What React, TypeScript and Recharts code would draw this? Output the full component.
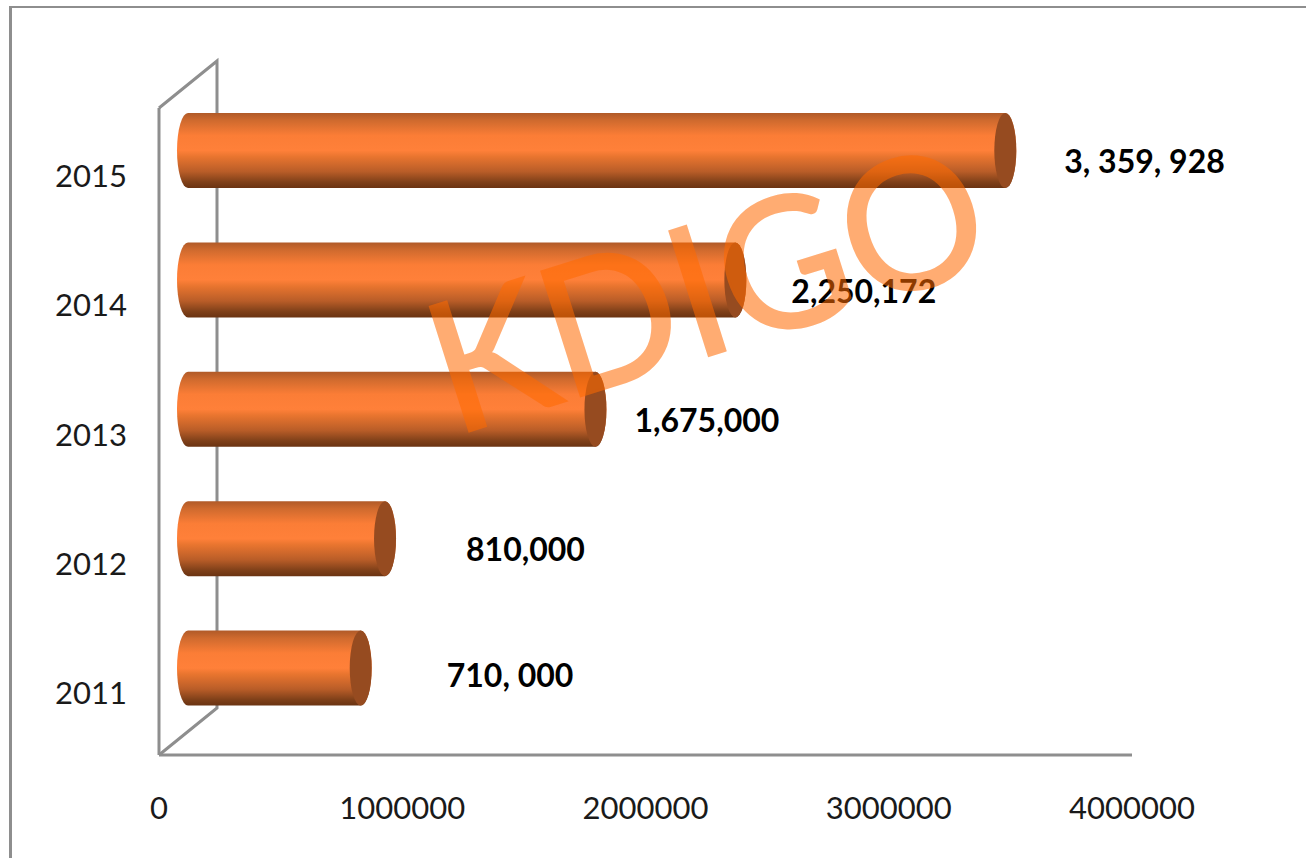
import React from 'react';
import { BarChart, Bar, XAxis, YAxis, LabelList, usePlotArea } from 'recharts';

const years = ['2011', '2012', '2013', '2014', '2015'];
const totals = [710000, 810000, 1675000, 2250172, 3359928];
const totalLabels = ['710, 000', '810,000', '1,675,000', '2,250,172', '3, 359, 928'];
const valueTicks = [0, 1000000, 2000000, 3000000, 4000000];

// hand placed callouts: gap from the end of the cylinder, and drop from its middle
const labelGaps = [75, 70, 28, 45, 48];
const labelDrops = [6, 10, 10, 11, 10];

const data = years.map((year, i) => ({ year, total: totals[i], label: totalLabels[i] }));

const AXIS_GREY = '#8e8e8e';
const FONT = 'Lato, sans-serif';

// floor and side wall of the fake 3D box
const DEPTH_X = 58;
const DEPTH_Y = 47;
const TUBE_SHIFT_X = 29;
const TUBE_SHIFT_Y = 22;
const CAP_RX = 11;

const Box = () => {
  const plot = usePlotArea();
  if (!plot) return null;
  const { x, y, height } = plot;
  const points = [
    [x, y],
    [x + DEPTH_X, y - DEPTH_Y],
    [x + DEPTH_X, y + height - DEPTH_Y],
    [x, y + height],
  ];
  return (
    <g>
      <defs>
        <linearGradient id="tube" x1="0" y1="0" x2="0" y2="1">
          <stop offset="0%" stopColor="#b05a28" />
          <stop offset="10%" stopColor="#cf6a2e" />
          <stop offset="30%" stopColor="#fb7d36" />
          <stop offset="50%" stopColor="#ff8039" />
          <stop offset="58%" stopColor="#e9752f" />
          <stop offset="78%" stopColor="#b95d28" />
          <stop offset="92%" stopColor="#7f4019" />
          <stop offset="100%" stopColor="#6a3312" />
        </linearGradient>
      </defs>
      <polyline
        points={points.map((p) => p.join(',')).join(' ')}
        fill="none"
        stroke={AXIS_GREY}
        strokeWidth={3}
      />
    </g>
  );
};

const Tube = (props: any) => {
  const { x, y, width, height } = props;
  const left = x + TUBE_SHIFT_X;
  const right = left + width;
  const top = y - TUBE_SHIFT_Y;
  const bottom = top + height;
  const ry = height / 2;
  const body = `M${left},${top} L${right},${top} A${CAP_RX},${ry} 0 0 1 ${right},${bottom} L${left},${bottom} A${CAP_RX},${ry} 0 0 1 ${left},${top} Z`;
  return (
    <g>
      <path d={body} fill="url(#tube)" />
      <ellipse cx={right} cy={top + ry} rx={CAP_RX} ry={ry} fill="#964b20" />
    </g>
  );
};

const TotalLabel = (props: any) => {
  const { x, y, width, height, index } = props;
  return (
    <text
      x={x + TUBE_SHIFT_X + width + CAP_RX + labelGaps[index]}
      y={y - TUBE_SHIFT_Y + height / 2 + labelDrops[index]}
      dominantBaseline="central"
      fontFamily={FONT}
      fontWeight={700}
      fontSize={32}
      fill="#000"
    >
      {totalLabels[index]}
    </text>
  );
};

export default function App() {
  return (
    <div style={{ position: 'absolute', left: 0, top: 0, width: 1306, height: 858, background: '#fff', overflow: 'hidden' }}>
      <div
        style={{
          position: 'absolute',
          left: 9,
          top: 6,
          width: 1400,
          height: 1000,
          borderLeft: `3px solid ${AXIS_GREY}`,
          borderTop: `2px solid ${AXIS_GREY}`,
        }}
      />
      <div style={{ position: 'absolute', left: 0, top: 0 }}>
        <BarChart
          width={1306}
          height={858}
          data={data}
          layout="vertical"
          margin={{ top: 108, right: 174, bottom: 0, left: 0 }}
          barSize={75}
        >
          <Box />
          <XAxis
            type="number"
            domain={[0, 4000000]}
            ticks={valueTicks}
            interval={0}
            height={103}
            tickLine={false}
            axisLine={{ stroke: AXIS_GREY, strokeWidth: 3 }}
            tick={{ fill: '#1a1a1a', fontSize: 31, fontFamily: FONT }}
            tickMargin={36}
          />
          <YAxis
            type="category"
            dataKey="year"
            reversed
            width={159}
            tickLine={false}
            axisLine={{ stroke: AXIS_GREY, strokeWidth: 3 }}
            tick={{ fill: '#1a1a1a', fontSize: 31, fontFamily: FONT, dy: 3 }}
            tickMargin={26}
          />
          <Bar dataKey="total" shape={<Tube />} isAnimationActive={false}>
            <LabelList dataKey="label" content={<TotalLabel />} />
          </Bar>
        </BarChart>
      </div>
      {/* watermark sits above the whole chart */}
      <svg width={1306} height={858} style={{ position: 'absolute', left: 0, top: 0, pointerEvents: 'none' }}>
        <text
          transform="translate(454,436) rotate(-17.5) scale(0.97,1)"
          fontFamily={FONT}
          fontSize={182}
          fill="#ff6a00"
          stroke="#ff6a00"
          strokeWidth={2.5}
          opacity={0.55}
        >
          KDIGO
        </text>
      </svg>
    </div>
  );
}
